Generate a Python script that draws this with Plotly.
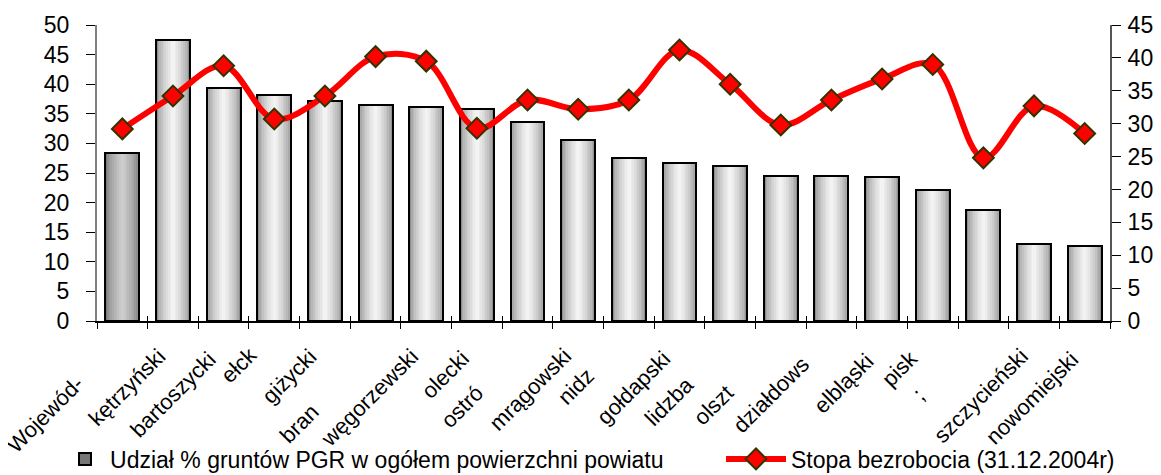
import plotly.graph_objects as go

# dane: powiaty woj. warmińsko-mazurskiego
districts = ["Województwo", "kętrzyński", "bartoszycki", "ełcki", "giżycki",
             "braniewski", "węgorzewski", "olecki", "ostródzki", "mrągowski",
             "nidzicki", "gołdapski", "lidzbarski", "olsztyński", "działdowski",
             "elbląski", "piski", "iławski", "szczycieński", "nowomiejski"]
# labels as they are visible (clipped) in the original picture
label_text = ["Wojewód-", "kętrzyński", "bartoszycki", "ełck", "giżycki",
              "bran", "węgorzewski", "olecki", "ostró", "mrągowski",
              "nidz", "gołdapski", "lidzba", "olszt", "działdows",
              "elbląski", "pisk", ";", "szczycieński", "nowomiejski"]
pgr_share = [28.3, 47.5, 39.4, 38.1, 37.2, 36.5, 36.1, 35.8, 33.6, 30.6,
             27.5, 26.7, 26.2, 24.5, 24.5, 24.3, 22.1, 18.7, 13.0, 12.6]
unemployment = [29.2, 34.2, 38.8, 30.7, 34.2, 40.2, 39.5, 29.3, 33.6, 32.2,
                33.6, 41.2, 36.0, 29.8, 33.6, 36.8, 39.0, 24.8, 32.7, 28.5]

bar_name = "Udział % gruntów PGR w ogółem powierzchni powiatu"
line_name = "Stopa bezrobocia (31.12.2004r)"

FONT = "Arial, Liberation Sans, sans-serif"
BW = 0.67
N = 10

fig = go.Figure()

# base bar (edge colour + outline, used for legend)
edge = ["#777777"] + ["#8f8f8f"] * (len(districts) - 1)
fig.add_trace(go.Bar(x=districts, y=pgr_share, width=BW, name=bar_name, legend="legend",
                     marker=dict(color=edge, line=dict(color="black", width=2))))

# fake horizontal gradient: narrower, lighter bars on top
for k in range(1, N):
    t = (k / (N - 1)) ** 0.6
    c_first = int(119 + (205 - 119) * t)
    c_rest = int(143 + (243 - 143) * t)
    cols = [f"rgb({c_first},{c_first},{c_first})"] + \
           [f"rgb({c_rest},{c_rest},{c_rest})"] * (len(districts) - 1)
    fig.add_trace(go.Bar(x=districts, y=pgr_share, width=BW * (1 - k / N),
                         marker=dict(color=cols, line=dict(width=0)),
                         showlegend=False, hoverinfo="skip"))

# outline on top again
fig.add_trace(go.Bar(x=districts, y=pgr_share, width=BW, showlegend=False,
                     marker=dict(color="rgba(0,0,0,0)", line=dict(color="black", width=2)),
                     hoverinfo="skip"))

# invisible helper so that xaxis2 (upper half of the crossing ticks) gets drawn
fig.add_trace(go.Scatter(x=list(range(len(districts))), y=pgr_share, xaxis="x2",
                         mode="markers", marker=dict(opacity=0), showlegend=False,
                         hoverinfo="skip"))

fig.add_trace(go.Scatter(x=districts, y=unemployment, yaxis="y2", name=line_name,
                         legend="legend2", mode="lines+markers",
                         line=dict(color="#ff0000", width=6, shape="spline", smoothing=1),
                         marker=dict(symbol="diamond", size=16, color="#ff0000",
                                     line=dict(color="#333300", width=2))))

# staggered, rotated category labels (px offset from bar centre, top edge below axis)
label_dx = [-31, 0, 0, -9, -1, -49, 0, 0, -36, 1,
            -27, -1, -29, -40, -14, -1, -7, -51, 2, 1]
label_top = [48, 20, 23, 18, 20, 75, 20, 22, 57, 20,
             40, 22, 48, 57, 28, 25, 22, 60, 20, 23]
for d, txt, dx, top in zip(districts, label_text, label_dx, label_top):
    fig.add_annotation(x=d, xref="x", y=0, yref="paper", text=txt, showarrow=False,
                       textangle=-45, xanchor="right", yanchor="top",
                       xshift=dx, yshift=-top,
                       font=dict(family=FONT, size=22, color="black"))

# the page body adds an 8px offset, so the figure is 8px smaller
fig.update_layout(
    width=1153, height=467,
    margin=dict(l=89, r=51, t=17, b=154, autoexpand=False),
    paper_bgcolor="white", plot_bgcolor="white",
    barmode="overlay", bargap=0,
    font=dict(family=FONT, size=23, color="black"),
    showlegend=True,
    legend=dict(x=-0.0365, xanchor="left", y=-0.466, yanchor="middle",
                font=dict(size=23), itemwidth=40, bgcolor="rgba(0,0,0,0)"),
    legend2=dict(x=0.616, xanchor="left", y=-0.466, yanchor="middle",
                 font=dict(size=23), itemwidth=60, bgcolor="rgba(0,0,0,0)"),
    xaxis=dict(range=[-0.5, len(districts) - 0.5], showticklabels=False,
               tickson="boundaries", ticks="outside", ticklen=6,
               tickcolor="black", showline=True, linecolor="black", linewidth=2,
               showgrid=False, zeroline=False, automargin=False),
    # second x axis only to draw the upper half of the crossing ticks
    xaxis2=dict(overlaying="x", anchor="y", side="bottom",
                range=[-0.5, len(districts) - 0.5],
                tick0=-0.5, dtick=1, ticks="inside", ticklen=5, tickcolor="black",
                showticklabels=False, showline=False, showgrid=False,
                zeroline=False, automargin=False),
    yaxis=dict(range=[0, 50], dtick=5, ticks="outside", ticklen=9, tickcolor="black",
               showline=True, linecolor="#808080", linewidth=2, showgrid=False,
               zeroline=False, tickfont=dict(size=23), ticklabelstandoff=12,
               automargin=False),
    yaxis2=dict(range=[0, 45], dtick=5, overlaying="y", side="right", ticks="outside",
                ticklen=9, tickcolor="black", showline=True, linecolor="#555555",
                linewidth=2, showgrid=False, zeroline=False, tickfont=dict(size=23),
                ticklabelstandoff=2, automargin=False),
)

fig.write_html("out.html")
